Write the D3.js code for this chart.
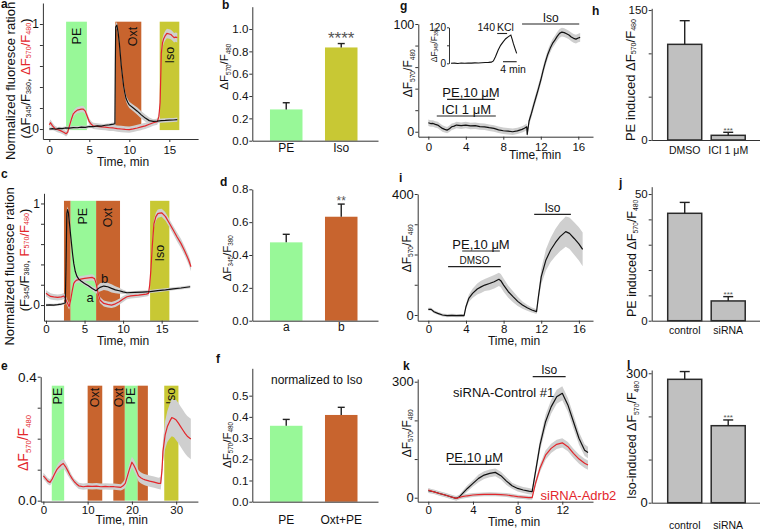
<!DOCTYPE html>
<html>
<head>
<meta charset="utf-8">
<script src="https://d3js.org/d3.v7.min.js"></script>
<style>
  body { margin: 0; background: #fff; }
  svg { font-family: "Liberation Sans", Arial, sans-serif; }
  .axis path, .axis line { stroke: #333; }
  .axis text { fill: #111; }
</style>
</head>
<body>
<svg id="fig" width="760" height="530"></svg>
<script>
// ---------- data ----------
// drug bands: [label, start (min), end (min), drug]
var aBands = [["PE", 2.1, 4.7, "PE"], ["Oxt", 8.25, 11.5, "Oxt"], ["Iso", 13.8, 16.25, "Iso"]];
var cBands = [["", 2.33, 3.2, "Oxt"], ["PE", 3.2, 6.5, "PE"], ["Oxt", 6.5, 9.6, "Oxt"], ["Iso", 13.5, 16, "Iso"]];
var eBands = [["PE", 1.9, 4.7, "PE"], ["Oxt", 10, 13.3, "Oxt"], ["Oxt", 15.8, 18.4, "Oxt"],
              ["PE", 18.4, 21.3, "PE"], ["", 21.3, 23.6, "Oxt"], ["Iso", 27.3, 30.5, "Iso"]];

// traces: [time (min), mean, sem]
var aCa = [[0,0,.015],[0.4,0.004,.015],[0.8,-0.002,.015],[1.2,0.006,.015],[1.6,0.004,.015],[2,0.01,.015],
  [2.5,0.008,.015],[3,0.014,.015],[3.5,0.012,.015],[4,0.018,.015],[4.5,0.016,.015],[5,0.024,.015],
  [5.5,0.022,.015],[6,0.03,.015],[6.5,0.028,.015],[7,0.036,.015],[7.5,0.04,.015],[8,0.046,.015],
  [8.2,0.05,.015],[8.25,0.6,.02],[8.3,0.97,.03],[8.45,0.99,.03],[8.6,0.92,.03],[8.75,0.82,.03],
  [9,0.6,.03],[9.15,0.5,.03],[9.3,0.405,.03],[9.45,0.34,.03],[9.6,0.29,.03],[9.8,0.255,.03],
  [10,0.23,.03],[10.5,0.2,.03],[11,0.17,.035],[11.5,0.135,.035],[12,0.104,.035],[12.5,0.08,.03],
  [13,0.073,.02],[13.5,0.075,.02],[14,0.08,.02],[14.5,0.082,.02],[15,0.085,.02],[15.5,0.086,.02],[16,0.089,.02]];
var aCAMP = [[0,0.04,.03],[0.15,0.06,.03],[0.4,0.03,.03],[0.7,0.005,.025],[1,-0.005,.025],[1.4,-0.015,.025],
  [1.8,-0.03,.025],[2.1,-0.045,.025],[2.3,-0.03,.025],[2.5,0.025,.03],[2.75,0.09,.03],[3,0.145,.03],
  [3.25,0.165,.03],[3.5,0.18,.03],[3.75,0.185,.03],[4,0.19,.03],[4.25,0.19,.03],[4.5,0.17,.03],
  [4.75,0.12,.03],[5,0.07,.03],[5.25,0.045,.03],[5.5,0.03,.03],[6,0.025,.03],[6.5,0.02,.03],
  [7,0.018,.03],[7.5,0.012,.03],[8,0.01,.03],[8.5,0.004,.03],[9,0,.03],[9.5,-0.004,.03],
  [10,-0.005,.03],[10.5,0.002,.03],[11,0.01,.03],[11.5,0.02,.03],[12,0.03,.03],[12.5,0.045,.03],
  [13,0.06,.03],[13.5,0.07,.03],[13.7,0.12,.035],[13.85,0.25,.04],[14,0.72,.045],[14.15,0.82,.045],
  [14.3,0.86,.045],[14.5,0.89,.045],[14.7,0.91,.045],[15,0.905,.045],[15.2,0.9,.045],[15.4,0.885,.045],
  [15.6,0.87,.045],[15.8,0.875,.045],[16,0.87,.045]];

var cCa = [[0,0,.012],[0.5,0.002,.012],[1,0,.012],[1.5,0.004,.012],[2,0.01,.012],[2.3,0.015,.012],
  [2.5,0.023,.015],[2.6,0.4,.03],[2.7,0.9,.03],[2.8,0.94,.03],[2.9,0.91,.03],[3,0.836,.03],
  [3.15,0.72,.03],[3.3,0.607,.03],[3.45,0.5,.03],[3.6,0.41,.03],[3.8,0.33,.025],[4,0.285,.025],
  [4.25,0.255,.02],[4.5,0.24,.02],[5,0.213,.02],[5.5,0.19,.02],[6,0.164,.02],[6.5,0.141,.03],
  [6.75,0.16,.035],[7,0.174,.04],[7.5,0.187,.04],[8,0.18,.04],[8.5,0.164,.04],[9,0.15,.035],
  [9.5,0.141,.03],[10,0.13,.02],[10.5,0.121,.015],[11.5,0.124,.015],[12.5,0.128,.015],[13.5,0.133,.015],
  [14.5,0.142,.015],[15.5,0.15,.015],[16.5,0.16,.015],[17.5,0.168,.015],[18.7,0.18,.015]];
var cCAMP = [[0,0.115,.03],[0.3,0.1,.03],[0.6,0.085,.03],[1,0.08,.03],[1.5,0.075,.03],[2,0.08,.03],
  [2.3,0.089,.03],[2.5,0.07,.03],[2.7,0.033,.03],[2.9,0,.03],[3,-0.016,.03],[3.2,0.05,.03],
  [3.4,0.14,.03],[3.6,0.213,.03],[3.8,0.235,.03],[4,0.246,.03],[4.5,0.255,.03],[5,0.262,.03],
  [5.5,0.268,.03],[6,0.272,.03],[6.3,0.26,.03],[6.5,0.213,.03],[6.75,0.12,.03],[7,0.05,.03],
  [7.5,0.016,.03],[8,0.006,.03],[8.5,0,.03],[9,0.012,.03],[9.5,0.033,.03],[10,0.06,.03],
  [10.5,0.082,.025],[11,0.09,.025],[12,0.098,.025],[13,0.108,.025],[13.3,0.115,.025],[13.45,0.2,.03],
  [13.6,0.344,.035],[13.8,0.6,.04],[14,0.8,.04],[14.25,0.87,.04],[14.5,0.9,.04],[14.75,0.905,.04],
  [15,0.908,.04],[15.25,0.89,.04],[15.5,0.87,.04],[16,0.805,.04],[16.5,0.738,.04],[17,0.67,.045],
  [17.5,0.607,.045],[18,0.53,.045],[18.5,0.443,.045],[18.8,0.377,.045]];

var eCAMP = [[0,0.08,.01],[0.5,0.072,.01],[1,0.063,.01],[1.5,0.059,.01],[2,0.07,.012],[2.5,0.085,.012],
  [3,0.099,.012],[3.5,0.108,.015],[4,0.115,.015],[4.5,0.12,.015],[5,0.11,.015],[5.5,0.097,.015],
  [6,0.083,.012],[6.5,0.071,.01],[7,0.061,.01],[7.5,0.054,.01],[8,0.048,.01],[9,0.045,.01],
  [10,0.047,.01],[11,0.046,.01],[12,0.047,.01],[13,0.045,.01],[14,0.046,.01],[15,0.045,.01],
  [16,0.045,.01],[17,0.044,.01],[17.5,0.043,.01],[18,0.048,.012],[18.5,0.056,.015],[19,0.08,.018],
  [19.5,0.104,.018],[20,0.124,.018],[20.4,0.115,.018],[20.8,0.104,.018],[21.5,0.08,.018],[22,0.074,.018],
  [22.5,0.07,.018],[23,0.067,.018],[24,0.063,.018],[25,0.06,.018],[26,0.056,.018],[26.5,0.056,.02],
  [26.8,0.1,.025],[27,0.158,.035],[27.5,0.212,.045],[28,0.239,.05],[28.5,0.255,.055],[29,0.268,.06],
  [29.5,0.265,.06],[30,0.26,.065],[30.5,0.25,.065],[31,0.239,.065],[31.5,0.228,.065],[32,0.217,.065],
  [32.5,0.208,.065],[33.3,0.199,.065]];

var gTrace = [[0,8.4,3],[0.25,7.6,3],[0.5,7.7,3],[0.75,6.8,3],[1,6.2,3],[1.25,4.6,3],[1.5,3.1,3],
  [1.75,2.2,3],[2,1.5,3],[2.25,2.8,3],[2.5,4.6,3],[2.75,5.2,3],[3,6.2,3],[3.5,5.6,3],[4,6.2,3],
  [4.5,5.4,3],[5,5.6,3],[5.5,4.8,3],[6,4.6,3],[6.5,3.8,3],[7,3.1,3],[7.5,1.8,3],[8,0.9,3],
  [8.5,0.5,3],[9,0,3],[9.5,0.8,3],[10,2.2,3],[10.25,3.2,3],[10.5,4.6,3],[10.55,-2.5,3],[10.75,10,3.5],
  [11,17,4],[11.25,25,4],[11.5,32.5,4],[11.75,40,4],[12,48,4],[12.25,57,4],[12.5,65,4],
  [12.75,72,4],[13,77.4,4],[13.25,82,4],[13.5,85,4],[13.75,88.5,4],[14,91.3,4],[14.25,92.5,4],
  [14.5,92,4],[14.75,91,4],[15,89.8,4],[15.25,88,4],[15.5,86.7,4],[15.75,86,4],[16,87,4],[16.2,87.6,4]];
// inset: fura-2 ratio during KCl
var gInset = [[0,0],[1,0.5],[2,-0.5],[3,0.8],[4,0.3],[5,1],[6,0.6],[7,1.5],[8,1.2],[9,2],[10,2.5],
  [11,3],[11.8,4],[12.4,8],[13,22],[13.8,44],[14.5,60],[15.3,72],[16,82],[16.8,89],[17.5,94],
  [17.9,80],[18.2,67],[18.7,50],[19.2,33]];

var iTrace = [[0,18.7,5],[0.3,18.7,5],[0.6,11,5],[1,5.5,5],[1.5,0,5],[2,-2,5],[2.5,-1,5],[3,-2,5],
  [3.5,-1.5,5],[3.8,-2,5],[4,27.5,8],[4.3,55,12],[4.7,71.6,15],[5.2,86,18],[5.6,93,20],[6,99,20],
  [6.5,104,22],[7,110,22],[7.5,118,22],[7.7,113.5,22],[8,99,22],[8.5,77,20],[9,60.6,18],[9.5,45,15],
  [10,33,12],[10.5,24,10],[11,16.5,8],[11.5,11,8],[11.7,60.6,15],[12,126.7,25],[12.5,182,35],
  [13,215,40],[13.5,239,45],[14,259,48],[14.6,275.5,50],[15,270,52],[15.5,253,54],[16,235,55],[16.4,217,56]];

var kControl = [[0,18,6],[0.5,15.5,6],[1,11,6],[1.5,7,6],[2,2.6,6],[2.5,-1.7,6],[2.8,2.6,6],[3.5,24,8],
  [4,37,8],[4.5,50,10],[5,58.6,10],[5.5,63,10],[6,65.5,10],[6.5,57,10],[7,43,10],[7.5,31,8],
  [8,24,8],[8.5,20,8],[9,17,8],[9.3,15.5,8],[9.6,67,12],[10,136,15],[10.5,196.5,18],[11,235,18],
  [11.5,261,18],[12,270,18],[12.5,240,18],[13,196.5,18],[13.5,153,16],[14,123,15],[14.3,117,15]];
var kAdrb2 = [[0,20,5],[0.5,15,5],[1,11,5],[1.5,7,5],[2,2.6,5],[2.5,-1.7,5],[3,2.6,5],[3.5,5,5],
  [4,7,5],[4.5,8,5],[5,8.6,5],[5.5,9,5],[6,8.6,5],[6.5,8,5],[7,7,5],[7.5,5,5],[8,2.6,5],
  [8.5,1.5,5],[9,0,5],[9.3,0,5],[9.6,37,8],[10,76,10],[10.5,110,12],[11,127.6,12],[11.5,138,12],
  [12,142,12],[12.5,132,12],[13,114.6,12],[13.5,100,12],[14,89,12],[14.3,84.5,12]];

// drug application bars: [label, start (min), end (min)]
var gDrugs = [["Iso", 10, 16.1], ["PE,10 μM", 2, 7.1], ["ICI 1 μM", 0.9, 7.2]];
var iDrugs = [["Iso", 11.25, 15.15], ["PE,10 μM", 3.6, 7.6], ["DMSO", 2.1, 7.7]];
var kDrugs = [["Iso", 9.35, 12.3], ["PE,10 μM", 1.85, 6.4]];

// bar charts
var bCats = ["PE", "Iso"], bMeans = [0.28, 0.835], bErrs = [0.06, 0.035], bStars = ["", "****"];
var dCats = ["a", "b"], dMeans = [0.477, 0.633], dErrs = [0.049, 0.077], dStars = ["", "**"];
var fCats = ["PE", "Oxt+PE"], fMeans = [0.358, 0.409], fErrs = [0.03, 0.036], fStars = ["", ""];
var hCats = ["DMSO", "ICI 1 μM"], hMeans = [110.4, 5.4], hErrs = [27.3, 3.5], hStars = ["", "***"];
var jCats = ["control", "siRNA"], jMeans = [42.4, 7.8], jErrs = [4.3, 1.7], jStars = ["", "***"];
var lCats = ["control", "siRNA"], lMeans = [286, 178.5], lErrs = [18, 13.3], lStars = ["", "***"];

// ---------- drawing ----------
var fig = d3.select("#fig");
var RED = "#e3262b";
var drugColor = { PE: "#98f898", Oxt: "#c8642e", Iso: "#c8c834" };

// text with _{sub} subscripts; str may be a list of [text, colour]
function label(g, x, y, str, size, opt) {
  opt = opt || {};
  var t = g.append("text")
    .attr("transform", "translate(" + x + "," + y + ")" + (opt.rot ? " rotate(" + opt.rot + ")" : ""))
    .attr("text-anchor", opt.anchor || "middle")
    .attr("font-size", size)
    .attr("font-weight", opt.bold ? "bold" : null)
    .attr("fill", opt.color || "#111");
  if (opt.baseline) t.attr("dominant-baseline", opt.baseline);
  var segs = typeof str === "string" ? [[str, null]] : str;
  var shift = 0, subSize = opt.sub || 0.55;
  segs.forEach(function(seg) {
    seg[0].split(/(_\{[^}]*\})/).forEach(function(piece) {
      if (!piece) return;
      var isSub = piece[0] === "_";
      var want = isSub ? size * 0.3 : 0;
      var ts = t.append("tspan").attr("dy", want - shift).text(isSub ? piece.slice(2, -1) : piece);
      if (isSub) ts.attr("font-size", size * subSize);
      if (seg[1]) ts.attr("fill", seg[1]);
      shift = want;
    });
  });
  return t;
}

function styleAxis(sel, size) {
  sel.attr("class", "axis").attr("font-family", null).attr("font-size", size);
}

function tracePanel(p) {
  var g = fig.append("g");
  var x = p.x, y = p.y;
  if (p.bands) {
    g.selectAll("rect.band").data(p.bands).enter().append("rect")
      .attr("class", "band")
      .attr("x", d => x(d[1]))
      .attr("width", d => x(d[2]) - x(d[1]))
      .attr("y", y(p.bandSpan[1]))
      .attr("height", y(p.bandSpan[0]) - y(p.bandSpan[1]))
      .attr("fill", d => drugColor[d[3]]);
    p.bands.forEach(function(d) {
      if (!d[0]) return;
      var drop = p.drop[d[0]] !== undefined ? p.drop[d[0]] : p.drop._;
      var nudge = (p.nudge && p.nudge[d[0]]) || 0;
      label(g, (x(d[1]) + x(d[2])) / 2 + nudge, y(p.bandSpan[1]) + drop, d[0], 12.5,
        { rot: -90, anchor: "end", baseline: "central" });
    });
  }
  p.series.forEach(function(s) {
    g.append("path").datum(s.data)
      .attr("fill", "#cfcfcf")
      .attr("d", d3.area().x(d => x(d[0])).y0(d => y(d[1] - d[2])).y1(d => y(d[1] + d[2])));
  });
  p.series.forEach(function(s) {
    g.append("path").datum(s.data)
      .attr("fill", "none").attr("stroke", s.color).attr("stroke-width", 1.2)
      .attr("stroke-linejoin", "round")
      .attr("d", d3.line().x(d => x(d[0])).y(d => y(d[1])));
  });
  g.append("g")
    .attr("transform", "translate(0," + y.range()[0] + ")")
    .call(d3.axisBottom(x).tickValues(p.xt).tickSize(3).tickSizeOuter(0).tickPadding(p.xPad))
    .call(styleAxis, 11.5);
  g.append("g")
    .attr("transform", "translate(" + x.range()[0] + ",0)")
    .call(d3.axisLeft(y).tickValues(p.yt).tickSize(3).tickSizeOuter(0).tickPadding(1)
      .tickFormat(d => p.yl.indexOf(d) >= 0 ? p.yf(d) : ""))
    .call(styleAxis, p.yFont);
  return g;
}

function drugBars(g, x, drugs, ys, sizes) {
  drugs.forEach(function(d, i) {
    g.append("line").attr("x1", x(d[1])).attr("x2", x(d[2]))
      .attr("y1", ys[i]).attr("y2", ys[i]).attr("stroke", "#222").attr("stroke-width", 1.2);
    label(g, (x(d[1]) + x(d[2])) / 2, ys[i] - 2.5, d[0], sizes[i]);
  });
}

function barPanel(p) {
  var g = fig.append("g");
  var x = d3.scaleBand().domain(p.cats).range(p.xr)
    .paddingInner(p.pi).paddingOuter(p.po).align(p.al);
  var y = p.y;
  var idx = d => p.cats.indexOf(d);
  g.selectAll("rect").data(p.cats).enter().append("rect")
    .attr("x", d => x(d)).attr("width", x.bandwidth())
    .attr("y", d => y(p.means[idx(d)]))
    .attr("height", d => y(0) - y(p.means[idx(d)]))
    .attr("fill", d => p.colors[idx(d)])
    .attr("stroke", p.stroke || "none").attr("stroke-width", 1.5);
  p.cats.forEach(function(c, i) {
    var cx = x(c) + x.bandwidth() / 2, top = y(p.means[i] + p.errs[i]);
    g.append("line").attr("x1", cx).attr("x2", cx).attr("y1", y(p.means[i])).attr("y2", top)
      .attr("stroke", "#222").attr("stroke-width", 1.4);
    g.append("line").attr("x1", cx - p.cap).attr("x2", cx + p.cap).attr("y1", top).attr("y2", top)
      .attr("stroke", "#222").attr("stroke-width", 1.4);
    if (p.stars[i]) label(g, cx, top + 0.5, p.stars[i], p.starSize, { color: "#555" });
  });
  g.append("g")
    .attr("transform", "translate(0," + y(0) + ")")
    .call(d3.axisBottom(x).tickSize(0).tickSizeOuter(0).tickPadding(p.xPad))
    .call(styleAxis, p.catFont);
  g.append("g")
    .attr("transform", "translate(" + p.xr[0] + ",0)")
    .call(d3.axisLeft(y).tickValues(p.yt).tickSize(3).tickSizeOuter(0).tickPadding(1)
      .tickFormat(d => p.yl.indexOf(d) >= 0 ? p.yf(d) : ""))
    .call(styleAxis, p.yFont);
  return g;
}

var f0 = d3.format("d"), f1 = d3.format(".1f");
var tenths = [0, 0.2, 0.4, 0.6, 0.8, 1];

// ---- a ----
var ga = tracePanel({
  x: d3.scaleLinear().domain([-0.8, 18.6]).range([42.9, 198.1]),
  y: d3.scaleLinear().domain([-0.095, 1.2]).range([139, 3]),
  bands: aBands, bandSpan: [-0.01, 1.022], drop: { PE: 6, Oxt: 5, Iso: 25, _: 5 }, nudge: { Oxt: 5 },
  series: [{ data: aCAMP, color: RED }, { data: aCa, color: "#111" }],
  xt: [0, 5, 10, 15], yt: tenths, yl: [0, 1], yf: f0, yFont: 12, xPad: 3.5
});
label(ga, 9.5, 81, "Normalized fluoresce ration", 13, { rot: -90, baseline: "central" });
label(ga, 25, 78.5, [["(ΔF_{345}/F_{380}, ", null], ["ΔF_{570}/F_{480}", RED], [")", null]], 13,
  { rot: -90, baseline: "central" });
label(ga, 123, 165.5, "Time, min", 12);
label(ga, 1, 8, "a", 12, { anchor: "start", bold: true });

// ---- c ----
var gc = tracePanel({
  x: d3.scaleLinear().domain([-0.26, 19.7]).range([44, 197.9]),
  y: d3.scaleLinear().domain([-0.154, 1.1]).range([320.7, 193.3]),
  bands: cBands, bandSpan: [-0.154, 1.026], drop: { PE: 7, Oxt: 7, Iso: 44, _: 7 },
  series: [{ data: cCAMP, color: RED }, { data: cCa, color: "#111" }],
  xt: [0, 5, 10, 15], yt: tenths, yl: [0, 1], yf: f0, yFont: 12, xPad: 1
});
label(gc, 9, 266.5, "Normalized fluoresce ration", 13, { rot: -90, baseline: "central" });
label(gc, 23.5, 260, [["(F_{345}/F_{380}, ", null], ["F_{570}/F_{480}", RED], [")", null]], 13,
  { rot: -90, baseline: "central" });
label(gc, 90, 301.7, "a", 13);
label(gc, 104.5, 282.7, "b", 13);
label(gc, 123, 345, "Time, min", 12);
label(gc, 1, 178, "c", 12, { anchor: "start", bold: true });

// ---- e ----
var ge = tracePanel({
  x: d3.scaleLinear().domain([-0.6, 34.9]).range([40.7, 197.9]),
  y: d3.scaleLinear().domain([-0.003, 0.4]).range([501.6, 376.7]),
  bands: eBands, bandSpan: [0, 0.371], drop: { _: 2 },
  series: [{ data: eCAMP, color: RED }],
  xt: [0, 10, 20, 30], yt: [0, 0.1, 0.2, 0.3, 0.4], yl: [0, 0.4], yf: f1, yFont: 13.5, xPad: 1
});
label(ge, 23.3, 443, "ΔF_{570}/F_{480}", 14, { rot: -90, baseline: "central", color: RED });
label(ge, 121.7, 524, "Time, min", 12);
label(ge, 1, 370, "e", 12, { anchor: "start", bold: true });

// ---- g ----
var gxs = d3.scaleLinear().domain([-1.07, 17.57]).range([418.3, 593]);
var gg = tracePanel({
  x: gxs,
  y: d3.scaleLinear().domain([-4.6, 100]).range([136.7, 24]),
  series: [{ data: gTrace, color: "#111" }],
  xt: [0, 4, 8, 12, 16], yt: [0, 20, 40, 60, 80, 100], yl: [0, 100], yf: f0, yFont: 12.5, xPad: 3
});
drugBars(gg, gxs, gDrugs, [24, 99.3, 116], [12, 13, 13]);
label(gg, 408.3, 73.3, "ΔF_{570}/F_{480}", 12, { rot: -90, baseline: "central" });
label(gg, 535, 159, "Time, min", 12);
label(gg, 400, 10, "g", 12, { anchor: "start", bold: true });
// inset
var inX = d3.scaleLinear().domain([0, 20]).range([451, 519.4]);
var inY = d3.scaleLinear().domain([0, 120]).range([63.3, 27.3]);
gg.append("path").datum(gInset).attr("fill", "none").attr("stroke", "#111").attr("stroke-width", 1.1)
  .attr("d", d3.line().x(d => inX(d[0])).y(d => inY(d[1])));
gg.append("g").attr("transform", "translate(449,0)")
  .call(d3.axisLeft(inY).tickValues([0, 60, 120]).tickSize(2).tickSizeOuter(0).tickPadding(1)
    .tickFormat(d => d === 60 ? "" : d))
  .call(styleAxis, 10);
label(gg, 433.5, 45.3, "ΔF_{340}/F_{380}", 8.5, { rot: -90, baseline: "central" });
label(gg, 495, 31, "140", 10.5, { anchor: "end" });
label(gg, 497, 31, "KCl", 10.5, { anchor: "start" });
gg.append("line").attr("x1", inX(13.5)).attr("x2", inX(16.4)).attr("y1", 33.5).attr("y2", 33.5)
  .attr("stroke", "#222").attr("stroke-width", 1.1);
gg.append("line").attr("x1", inX(15.2)).attr("x2", inX(19.2)).attr("y1", 61.7).attr("y2", 61.7)
  .attr("stroke", "#222").attr("stroke-width", 1.1);
label(gg, 513, 73, "4 min", 10.5);

// ---- i ----
var ixs = d3.scaleLinear().domain([-1.13, 17.5]).range([417.7, 593]);
var gi = tracePanel({
  x: ixs,
  y: d3.scaleLinear().domain([-18.8, 400]).range([320.7, 194]),
  series: [{ data: iTrace, color: "#111" }],
  xt: [0, 4, 8, 12, 16], yt: [0, 100, 200, 300, 400], yl: [0, 400], yf: f0, yFont: 13, xPad: 1
});
drugBars(gi, ixs, iDrugs, [214.3, 251, 266.7], [12, 13, 10]);
label(gi, 406.7, 248.3, "ΔF_{570}/F_{480}", 12, { rot: -90, baseline: "central" });
label(gi, 514, 345, "Time, min", 12);
label(gi, 399, 181.7, "i", 12, { anchor: "start", bold: true });

// ---- k ----
var kxs = d3.scaleLinear().domain([-0.95, 14.75]).range([417.7, 593]);
var gk = tracePanel({
  x: kxs,
  y: d3.scaleLinear().domain([-10.3, 307]).range([501.7, 379]),
  series: [{ data: kControl, color: "#111" }, { data: kAdrb2, color: RED }],
  xt: [0, 4, 8, 12], yt: [0, 100, 200, 300], yl: [0, 300], yf: f0, yFont: 13, xPad: 1
});
drugBars(gk, kxs, kDrugs, [376.7, 464.3], [12, 13]);
label(gk, 503.7, 397, "siRNA-Control #1", 13);
label(gk, 540.5, 500, "siRNA-Adrb2", 13, { anchor: "start", color: RED });
label(gk, 406.7, 433.3, "ΔF_{570}/F_{480}", 12, { rot: -90, baseline: "central" });
label(gk, 514, 525.7, "Time, min", 12);
label(gk, 403, 370, "k", 12, { anchor: "start", bold: true });

// ---- b, d, f ----
var midBars = { xr: [252.3, 378], pi: 0.409, po: 0.347, al: 0.463, cap: 3.5, catFont: 12, yFont: 11.5 };
var gb = barPanel(Object.assign({}, midBars, {
  cats: bCats, means: bMeans, errs: bErrs, stars: bStars, starSize: 17,
  colors: [drugColor.PE, drugColor.Iso],
  y: d3.scaleLinear().domain([0, 1.2]).range([140.7, 6.7]),
  yt: tenths, yl: tenths, yf: f1, xPad: 2.5
}));
label(gb, 224.3, 66.7, "ΔF_{570}/F_{480}", 11.5, { rot: -90, baseline: "central" });
label(gb, 222, 9, "b", 12, { anchor: "start", bold: true });

var gd = barPanel(Object.assign({}, midBars, {
  cats: dCats, means: dMeans, errs: dErrs, stars: dStars, starSize: 12,
  colors: [drugColor.PE, drugColor.Oxt],
  y: d3.scaleLinear().domain([0, 0.8]).range([320.7, 189.3]),
  yt: [0, 0.2, 0.4, 0.6, 0.8], yl: [0, 0.2, 0.4, 0.6, 0.8], yf: f1, xPad: 2
}));
label(gd, 226.7, 258.3, "ΔF_{345}/F_{380}", 11.5, { rot: -90, baseline: "central" });
label(gd, 220, 186, "d", 12, { anchor: "start", bold: true });

var gf = barPanel(Object.assign({}, midBars, {
  cats: fCats, means: fMeans, errs: fErrs, stars: fStars, starSize: 12,
  colors: [drugColor.PE, drugColor.Oxt],
  y: d3.scaleLinear().domain([0, 0.629]).range([501.7, 368.3]),
  yt: [0, 0.1, 0.2, 0.3, 0.4, 0.5], yl: [0, 0.1, 0.2, 0.3, 0.4, 0.5], yf: f1, xPad: 14
}));
label(gf, 226.7, 445, "ΔF_{570}/F_{480}", 11.5, { rot: -90, baseline: "central" });
label(gf, 316.7, 384, "normalized to Iso", 12);
label(gf, 216, 363, "f", 12, { anchor: "start", bold: true });

// ---- h, j, l ----
var rightBars = { xr: [651.7, 760], pi: 0.218, po: 0.354, al: 0.52, cap: 5, catFont: 10.5,
  stroke: "#2a2a2a", starSize: 8, colors: ["#c0c0c0", "#c0c0c0"] };
var gh = barPanel(Object.assign({}, rightBars, {
  cats: hCats, means: hMeans, errs: hErrs, stars: hStars,
  y: d3.scaleLinear().domain([0, 152]).range([140, 8.3]),
  yt: [0, 50, 100, 150], yl: [0, 150], yf: f0, yFont: 11.5, xPad: 7
}));
label(gh, 630, 80, "PE induced ΔF_{570}/F_{480}", 13, { rot: -90, baseline: "central" });
label(gh, 592, 15, "h", 12, { anchor: "start", bold: true });

var gj = barPanel(Object.assign({}, rightBars, {
  cats: jCats, means: jMeans, errs: jErrs, stars: jStars,
  y: d3.scaleLinear().domain([0, 52.9]).range([320.7, 186.7]),
  yt: [0, 10, 20, 30, 40, 50], yl: [0, 50], yf: f0, yFont: 11.5, xPad: 6
}));
label(gj, 631.7, 258.3, "PE induced ΔF_{570}/F_{480}", 12.5, { rot: -90, baseline: "central" });
label(gj, 619, 187, "j", 12, { anchor: "start", bold: true });

var gl = barPanel(Object.assign({}, rightBars, {
  cats: lCats, means: lMeans, errs: lErrs, stars: lStars,
  y: d3.scaleLinear().domain([0, 307.6]).range([502.7, 370]),
  yt: [0, 100, 200, 300], yl: [0, 300], yf: f0, yFont: 13, xPad: 19
}));
label(gl, 632, 440, "Iso-induced ΔF_{570}/F_{480}", 12.5, { rot: -90, baseline: "central" });
label(gl, 627, 369, "l", 12, { anchor: "start", bold: true });
</script>
</body>
</html>
